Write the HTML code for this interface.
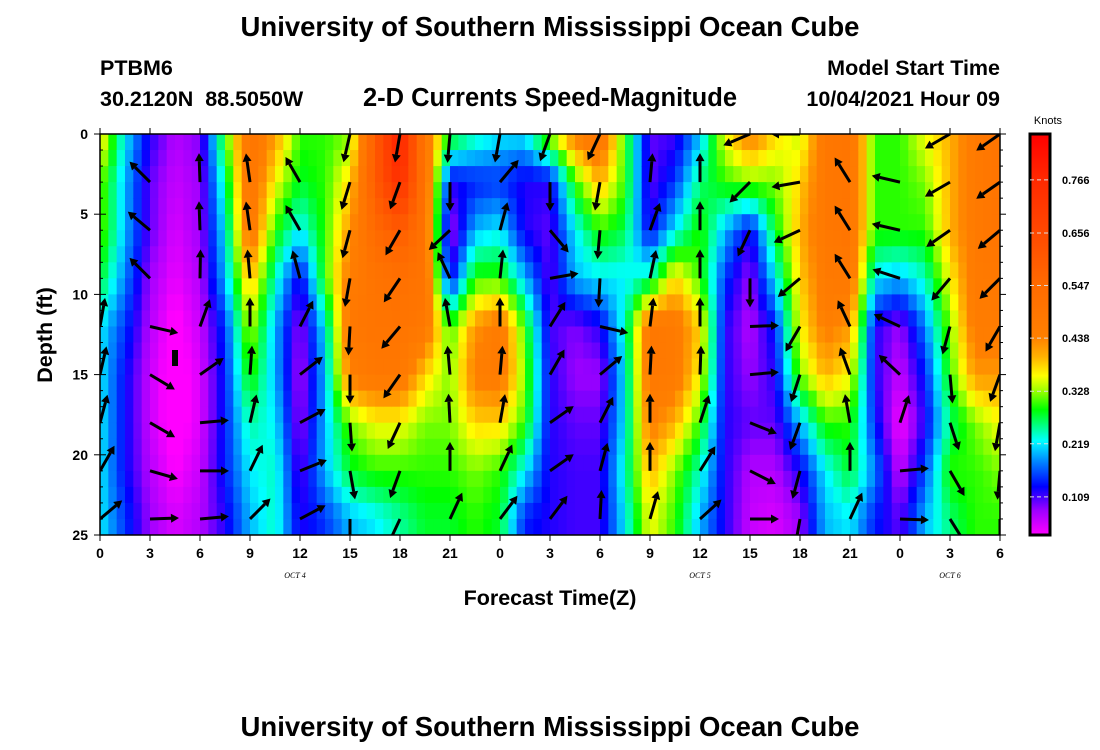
<!DOCTYPE html>
<html><head><meta charset="utf-8"><style>
html,body{margin:0;padding:0;background:#fff;}
svg{display:block;font-family:"Liberation Sans",sans-serif;}
</style></head><body>
<svg id="chart" width="1100" height="750" viewBox="0 0 1100 750" xmlns="http://www.w3.org/2000/svg">
<defs>
<clipPath id="plotclip"><rect x="100" y="134" width="900" height="401"/></clipPath>
</defs>
<rect x="0" y="0" width="1100" height="750" fill="#fff"/>
<text x="550" y="36" text-anchor="middle" font-size="27.5" font-weight="bold">University of Southern Mississippi Ocean Cube</text>
<text x="100" y="75" font-size="21.5" font-weight="bold">PTBM6</text>
<text x="100" y="106" font-size="21.5" font-weight="bold" xml:space="preserve">30.2120N  88.5050W</text>
<text x="550" y="106" text-anchor="middle" font-size="25.5" font-weight="bold">2-D Currents Speed-Magnitude</text>
<text x="1000" y="75" text-anchor="end" font-size="21.5" font-weight="bold">Model Start Time</text>
<text x="1000" y="106" text-anchor="end" font-size="21.5" font-weight="bold">10/04/2021 Hour 09</text>
<g id="heat" clip-path="url(#plotclip)"></g>
<g id="arrows" clip-path="url(#plotclip)"></g>
<rect x="172" y="350" width="6" height="16" fill="#000"/>
<rect x="100" y="134" width="900" height="401" fill="none" stroke="#000" stroke-width="1.5"/>
<g id="axes"></g>
<text transform="translate(52,335) rotate(-90)" text-anchor="middle" font-size="21.5" font-weight="bold">Depth (ft)</text>
<text x="550" y="605" text-anchor="middle" font-size="21.5" font-weight="bold">Forecast Time(Z)</text>
<text x="295" y="578" text-anchor="middle" font-size="8" font-style="italic" font-family="Liberation Serif,serif">OCT 4</text>
<text x="700" y="578" text-anchor="middle" font-size="8" font-style="italic" font-family="Liberation Serif,serif">OCT 5</text>
<text x="950" y="578" text-anchor="middle" font-size="8" font-style="italic" font-family="Liberation Serif,serif">OCT 6</text>
<g id="colorbar"></g>
<text x="1048" y="124" text-anchor="middle" font-size="11">Knots</text>
<text x="550" y="736" text-anchor="middle" font-size="27.5" font-weight="bold">University of Southern Mississippi Ocean Cube</text>
</svg>
<script>
const gridHours = [0,1.5,3,4.5,6,7.5,9,10.5,12,13.5,15,16.5,18,19.5,21,22.5,24,25.5,27,28.5,30,31.5,33,34.5,36,37.5,39,40.5,42,43.5,45,46.5,48,49.5,51,52.5,54];
const gridDepths = [0,3,6,9,12,15,18,21,24];
const speedByHour = [
[0.38,0.32,0.32,0.28,0.22,0.22,0.22,0.22,0.22],
[0.22,0.2,0.2,0.18,0.15,0.13,0.13,0.13,0.15],
[0.12,0.1,0.1,0.08,0.07,0.06,0.06,0.07,0.08],
[0.07,0.06,0.05,0.04,0.02,0.01,0.01,0.03,0.05],
[0.09,0.08,0.08,0.07,0.06,0.05,0.05,0.06,0.07],
[0.3,0.25,0.22,0.2,0.15,0.14,0.14,0.14,0.12],
[0.5,0.5,0.48,0.4,0.34,0.3,0.25,0.22,0.2],
[0.42,0.36,0.3,0.24,0.2,0.2,0.22,0.24,0.24],
[0.3,0.28,0.22,0.12,0.08,0.07,0.08,0.1,0.12],
[0.3,0.3,0.3,0.3,0.22,0.2,0.2,0.2,0.15],
[0.32,0.38,0.42,0.46,0.48,0.45,0.32,0.28,0.2],
[0.6,0.6,0.55,0.5,0.5,0.48,0.36,0.3,0.22],
[0.8,0.75,0.6,0.52,0.5,0.48,0.36,0.3,0.25],
[0.48,0.5,0.5,0.5,0.48,0.38,0.32,0.3,0.28],
[0.3,0.12,0.07,0.12,0.3,0.32,0.32,0.3,0.28],
[0.25,0.14,0.2,0.3,0.42,0.45,0.38,0.32,0.3],
[0.22,0.15,0.22,0.3,0.47,0.47,0.38,0.3,0.28],
[0.22,0.12,0.12,0.2,0.3,0.32,0.3,0.22,0.14],
[0.34,0.12,0.1,0.1,0.11,0.12,0.12,0.12,0.12],
[0.45,0.3,0.22,0.2,0.09,0.08,0.1,0.11,0.11],
[0.5,0.4,0.3,0.22,0.12,0.08,0.1,0.11,0.11],
[0.3,0.3,0.27,0.22,0.24,0.22,0.22,0.24,0.22],
[0.1,0.1,0.12,0.25,0.48,0.48,0.45,0.4,0.36],
[0.11,0.15,0.22,0.38,0.47,0.47,0.4,0.32,0.3],
[0.2,0.26,0.3,0.3,0.38,0.36,0.3,0.24,0.2],
[0.36,0.3,0.2,0.15,0.12,0.12,0.12,0.12,0.12],
[0.45,0.32,0.12,0.08,0.07,0.08,0.1,0.07,0.06],
[0.38,0.32,0.28,0.22,0.14,0.12,0.1,0.07,0.05],
[0.34,0.38,0.4,0.38,0.36,0.32,0.2,0.12,0.08],
[0.48,0.48,0.48,0.47,0.45,0.4,0.3,0.22,0.2],
[0.5,0.5,0.5,0.48,0.42,0.36,0.3,0.28,0.22],
[0.3,0.3,0.3,0.22,0.12,0.12,0.14,0.18,0.14],
[0.3,0.3,0.3,0.2,0.08,0.06,0.03,0.06,0.1],
[0.36,0.32,0.3,0.24,0.18,0.14,0.12,0.16,0.2],
[0.4,0.4,0.4,0.36,0.32,0.3,0.26,0.3,0.26],
[0.47,0.47,0.47,0.47,0.46,0.42,0.32,0.3,0.3],
[0.5,0.5,0.5,0.48,0.46,0.42,0.36,0.32,0.3]
];
const arrowHours = [0,3,6,9,12,15,18,21,24,27,30,33,36,39,42,45,48,51,54];
const arrowDepths = [0,3,6,9,12,15,18,21,24];
const arrowDirs = [
[90,150,150,150,80,77,75,60,40],
[90,135,140,135,-13,-31,-30,-16,2],
[90,92,92,89,70,35,5,0,5],
[90,98,98,95,90,86,77,64,45],
[90,120,120,105,63,38,28,22,28],
[-103,-107,-105,-100,-93,-90,-86,-80,-90],
[-100,-110,-120,-124,-130,-125,-115,-110,-115],
[-95,-90,-137,115,100,95,93,90,65],
[-100,50,75,84,90,85,80,65,53],
[-110,-90,-50,10,58,60,35,35,53],
[-115,-100,-95,-93,-13,40,63,75,87],
[90,85,70,78,83,87,90,90,74],
[90,90,90,90,90,88,72,58,42],
[-157,-135,-115,-90,2,5,-22,-27,0],
[180,-170,-155,-140,-120,-108,-110,-105,-100],
[90,122,122,122,115,110,100,90,65],
[90,167,167,162,155,137,72,5,-2],
[-150,-150,-145,-130,-105,-85,-72,-60,-58],
[-145,-145,-140,-135,-120,-110,-100,-95,-90]
];
const xTickLabels = ["0","3","6","9","12","15","18","21","0","3","6","9","12","15","18","21","0","3","6"];
const yTickValues = [0,5,10,15,20,25];
const cbTickValues = [0.109,0.219,0.328,0.438,0.547,0.656,0.766];
const colorStops = [[0.03,[255,0,255]],[0.08,[160,0,255]],[0.13,[0,0,255]],[0.18,[0,128,255]],[0.225,[0,255,255]],[0.29,[0,255,0]],[0.33,[160,255,0]],[0.36,[255,255,0]],[0.40,[255,176,0]],[0.44,[255,128,0]],[0.55,[255,106,0]],[0.66,[255,72,0]],[0.77,[255,40,0]],[0.86,[255,0,0]]];

const NS="http://www.w3.org/2000/svg";
const X0=100,X1=1000,Y0=134,Y1=535,HMAX=54,DMAX=25;
const xs=h=>X0+h*(X1-X0)/HMAX;
const ys=d=>Y0+d*(Y1-Y0)/DMAX;
const cbY=v=>535-(v-0.03)*482.5;
function color(v){
  if(v<=colorStops[0][0]) return colorStops[0][1];
  for(let i=1;i<colorStops.length;i++){
    if(v<=colorStops[i][0]){const a=colorStops[i-1],b=colorStops[i];const t=(v-a[0])/(b[0]-a[0]);
      return a[1].map((c,k)=>Math.round(c+(b[1][k]-c)*t));}
  }
  return colorStops[colorStops.length-1][1];
}
const rgb=c=>`rgb(${c[0]},${c[1]},${c[2]})`;
function mk(tag,attrs,parent){const e=document.createElementNS(NS,tag);for(const k in attrs)e.setAttribute(k,attrs[k]);parent.appendChild(e);return e;}
function sample(h,d){
  let i=Math.min(Math.floor(h/1.5),gridHours.length-2);let ti=(h-gridHours[i])/1.5;ti=Math.max(0,Math.min(1,ti));
  let dd=Math.min(d,24);let j=Math.min(Math.floor(dd/3),gridDepths.length-2);let tj=(dd-gridDepths[j])/3;tj=Math.max(0,Math.min(1,tj));
  const a=speedByHour[i][j],b=speedByHour[i+1][j],c=speedByHour[i][j+1],e=speedByHour[i+1][j+1];
  return (a*(1-ti)+b*ti)*(1-tj)+(c*(1-ti)+e*ti)*tj;
}
const heat=document.getElementById('heat');
for(let i=0;i<108;i++){for(let j=0;j<25;j++){
  const h0=i*0.5,d0=j;const v=sample(h0+0.25,d0+0.5);
  const r=mk('rect',{x:xs(h0).toFixed(2),y:ys(d0).toFixed(2),width:(xs(h0+0.5)-xs(h0)+0.6).toFixed(2),height:(ys(d0+1)-ys(d0)+0.6).toFixed(2),fill:rgb(color(v))},heat);
  
  
}}
const arr=document.getElementById('arrows');
const L=29;
arrowHours.forEach((h,ci)=>{arrowDepths.forEach((d,ri)=>{
  const a=arrowDirs[ci][ri]*Math.PI/180;const x=xs(h),y=ys(d);
  const tx=x+L*Math.cos(a),ty=y-L*Math.sin(a);
  const g=mk('g',{},arr);
  
  
  const bx=tx-8*Math.cos(a),by=ty+8*Math.sin(a);
  mk('line',{x1:x,y1:y,x2:bx,y2:by,stroke:'#000','stroke-width':3},g);
  const px=Math.sin(a)*4.5,py=Math.cos(a)*4.5;
  mk('polygon',{points:`${tx},${ty} ${bx+px},${by+py} ${bx-px},${by-py}`,fill:'#000'},g);
});});
const axes=document.getElementById('axes');
for(let d=0;d<=25;d++){
  const len=d%5===0?6:3;
  const t=mk('line',{x1:X0,y1:ys(d),x2:X0+len,y2:ys(d),stroke:'#000','stroke-width':1},axes);
  
  const t2=mk('line',{x1:X1,y1:ys(d),x2:X1+len,y2:ys(d),stroke:'#000','stroke-width':1},axes);
  
}
yTickValues.forEach(v=>{
  const t=mk('text',{x:88,y:ys(v)+5,'text-anchor':'end','font-size':14,'font-weight':'bold'},axes);t.textContent=v;
  
  const k=mk('line',{x1:X0-6,y1:ys(v),x2:X0,y2:ys(v),stroke:'#000','stroke-width':1},axes);
  
});
arrowHours.forEach((h,i)=>{
  const k=mk('line',{x1:xs(h),y1:Y1,x2:xs(h),y2:Y1+6,stroke:'#000','stroke-width':1},axes);
  
  const k2=mk('line',{x1:xs(h),y1:Y0-6,x2:xs(h),y2:Y0,stroke:'#000','stroke-width':1},axes);
  
  const t=mk('text',{x:xs(h),y:558,'text-anchor':'middle','font-size':14,'font-weight':'bold'},axes);t.textContent=xTickLabels[i];
  
});
const cb=document.getElementById('colorbar');
for(let y=134;y<535;y++){
  const v=0.03+(535-y-0.5)/482.5;
  const r=mk('rect',{x:1030,y:y,width:20,height:1.2,fill:rgb(color(v))},cb);
  
}
const fr=mk('rect',{x:1030,y:134,width:20,height:401,fill:'none',stroke:'#000','stroke-width':3},cb);

cbTickValues.forEach(v=>{
  const l=mk('line',{x1:1030,y1:cbY(v),x2:1050,y2:cbY(v),stroke:'#ddd','stroke-width':1,'stroke-dasharray':'4,3'},cb);
  
  const t=mk('text',{x:1062,y:cbY(v)+4,'font-size':11,'font-weight':'bold'},cb);t.textContent=v.toFixed(3);
  
});
</script>
</body></html>
